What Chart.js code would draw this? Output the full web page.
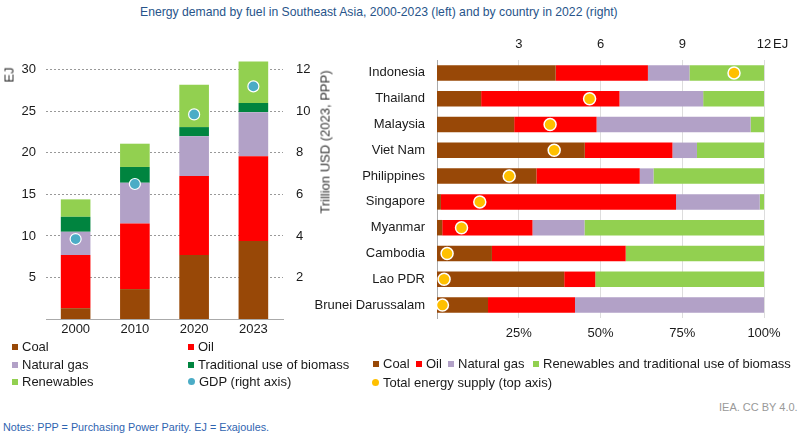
<!DOCTYPE html>
<html>
<head>
<meta charset="utf-8">
<script src="https://cdn.jsdelivr.net/npm/chart.js@4.4.0/dist/chart.umd.min.js"></script>
<style>
  body { margin: 0; width: 800px; height: 436px; background: #fff; position: relative; overflow: hidden;
         font-family: "Liberation Sans", Arial, sans-serif; }
  canvas { position: absolute; top: 0; }
  #leftChart { left: 0; }
  #rightChart { left: 300px; }
  .txt { position: absolute; white-space: nowrap; font-size: 13px; color: #1a1a1a; }
  .rot { position: absolute; white-space: nowrap; font-size: 13px; color: #333; font-weight: normal; transform: translate(-50%, -50%) rotate(-90deg); }
  .lg { position: absolute; white-space: nowrap; font-size: 13px; color: #1a1a1a; line-height: 16px; }
  .lg i { display: inline-block; width: 6px; height: 6px; margin-right: 4px; vertical-align: 1px; }
</style>
</head>
<body>
<div class="txt" style="left:140px;top:5px;font-size:12.2px;color:#27548a;">Energy demand by fuel in Southeast Asia, 2000-2023 (left) and by country in 2022 (right)</div>
<canvas id="leftChart" width="335" height="345"></canvas>
<canvas id="rightChart" width="500" height="345"></canvas>
<div class="rot" style="left:9px;top:75px;">EJ</div>
<div class="rot" style="left:325px;top:142px;">Trillion USD (2023, PPP)</div>
<div class="txt" style="left:773px;top:36px;">EJ</div>
<div class="txt" style="left:719px;top:401px;font-size:11px;color:#999;">IEA. CC BY 4.0.</div>
<div class="txt" style="left:3px;top:421px;font-size:10.8px;color:#2f64b0;">Notes: PPP = Purchasing Power Parity. EJ = Exajoules.</div>
<script>
const coalColor = "#984807";
const oilColor = "#ff0000";
const gasColor = "#b2a1c7";
const tradColor = "#00843f";
const renewColor = "#92d050";
const gdpColor = "#4bacc6";
const tesColor = "#ffc000";

// left: demand by fuel, EJ
const years = ["2000", "2010", "2020", "2023"];
const coal = [1.3, 3.6, 7.7, 9.4];
const oil = [6.4, 7.9, 9.5, 10.2];
const natGas = [2.8, 4.9, 4.8, 5.3];
const tradBiomass = [1.8, 1.9, 1.1, 1.1];
const renewables = [2.1, 2.8, 5.1, 5.0];
const gdp = [3.85, 6.5, 9.85, 11.2];

// right: shares by country in 2022, %
const countries = ["Indonesia", "Thailand", "Malaysia", "Viet Nam", "Philippines", "Singapore", "Myanmar", "Cambodia", "Lao PDR", "Brunei Darussalam"];
const coalShare = [36.3, 13.5, 23.6, 45.2, 30.4, 1.2, 1.6, 16.8, 38.9, 15.6];
const oilShare = [28.2, 42.3, 25.2, 26.8, 31.6, 71.9, 27.6, 40.9, 9.5, 26.6];
const gasShare = [12.7, 25.6, 47.1, 7.5, 4.2, 25.6, 15.9, 0, 0, 57.8];
const renewShare = [22.8, 18.6, 4.1, 20.5, 33.8, 1.3, 54.9, 42.3, 51.6, 0];
const totalSupply = [10.9, 5.6, 4.15, 4.3, 2.65, 1.57, 0.9, 0.37, 0.26, 0.2];

const tickFont = { family: "'Liberation Sans', Arial, sans-serif", size: 13 };
const tickColor = "#1a1a1a";

new Chart(document.getElementById("leftChart"), {
  type: "bar",
  data: {
    labels: years,
    datasets: [
      { type: "line", label: "GDP (right axis)", data: gdp, yAxisID: "y2", showLine: false, order: 0,
        pointRadius: 5.5, pointBackgroundColor: gdpColor, pointBorderColor: "#fff", pointBorderWidth: 1.2 },
      { label: "Coal", data: coal, backgroundColor: coalColor, order: 1 },
      { label: "Oil", data: oil, backgroundColor: oilColor, order: 1 },
      { label: "Natural gas", data: natGas, backgroundColor: gasColor, order: 1 },
      { label: "Traditional use of biomass", data: tradBiomass, backgroundColor: tradColor, order: 1 },
      { label: "Renewables", data: renewables, backgroundColor: renewColor, order: 1 },
    ],
  },
  options: {
    responsive: false,
    animation: false,
    layout: { padding: { top: 49 } },
    plugins: { legend: { display: false }, tooltip: { enabled: false } },
    datasets: { bar: { barPercentage: 0.5, categoryPercentage: 1, borderWidth: 0 } },
    scales: {
      x: {
        stacked: true,
        grid: { display: false, drawTicks: false },
        border: { color: "#aaa" },
        ticks: { font: tickFont, color: tickColor, padding: 3 },
        afterFit: (s) => { s.height = 26; },
      },
      y: {
        stacked: true, min: 0, max: 32.5,
        ticks: { stepSize: 5, font: tickFont, color: tickColor, padding: 10 },
        grid: { color: "#999", drawTicks: false },
        border: { display: false, dash: [2, 2] },
        afterBuildTicks: (s) => { s.ticks = s.ticks.filter((t) => t.value > 0 && t.value % 5 === 0); },
        afterFit: (s) => { s.width = 46; },
      },
      y2: {
        position: "right", min: 0, max: 13,
        ticks: { stepSize: 2, font: tickFont, color: tickColor, padding: 13 },
        grid: { display: false, drawTicks: false },
        border: { display: false },
        afterBuildTicks: (s) => { s.ticks = s.ticks.filter((t) => t.value > 0 && t.value % 2 === 0); },
        afterFit: (s) => { s.width = 52; },
      },
    },
  },
});

new Chart(document.getElementById("rightChart"), {
  type: "bar",
  data: {
    labels: countries,
    datasets: [
      { type: "line", label: "Total energy supply (top axis)", data: totalSupply, xAxisID: "x2", yAxisID: "y",
        showLine: false, order: 0, pointRadius: 6, pointBackgroundColor: tesColor, pointBorderColor: "#fff", pointBorderWidth: 1.5 },
      { label: "Coal", data: coalShare, backgroundColor: coalColor, xAxisID: "x", yAxisID: "y", order: 1 },
      { label: "Oil", data: oilShare, backgroundColor: oilColor, xAxisID: "x", yAxisID: "y", order: 1 },
      { label: "Natural gas", data: gasShare, backgroundColor: gasColor, xAxisID: "x", yAxisID: "y", order: 1 },
      { label: "Renewables and traditional use of biomass", data: renewShare, backgroundColor: renewColor, xAxisID: "x", yAxisID: "y", order: 1 },
    ],
  },
  options: {
    indexAxis: "y",
    responsive: false,
    animation: false,
    layout: { padding: { right: 36 } },
    plugins: { legend: { display: false }, tooltip: { enabled: false } },
    datasets: { bar: { barPercentage: 0.6, categoryPercentage: 1, borderWidth: 0 } },
    scales: {
      x: {
        type: "linear", position: "bottom", stacked: true, min: 0, max: 100,
        ticks: { stepSize: 25, font: tickFont, color: tickColor, padding: 8, callback: (v) => v + "%" },
        grid: { color: "#ddd", drawTicks: false },
        border: { display: false },
        afterBuildTicks: (s) => { s.ticks = s.ticks.filter((t) => t.value > 0); },
        afterFit: (s) => { s.height = 27; },
      },
      x2: {
        type: "linear", position: "top", min: 0, max: 12,
        ticks: { stepSize: 3, font: tickFont, color: tickColor, padding: 8 },
        grid: { display: false, drawTicks: false },
        border: { display: false },
        afterBuildTicks: (s) => { s.ticks = s.ticks.filter((t) => t.value > 0); },
        afterFit: (s) => { s.height = 60; },
      },
      y: {
        type: "category", stacked: true,
        ticks: { font: tickFont, color: tickColor, padding: 12 },
        grid: { display: false, drawTicks: false },
        border: { color: "#aaa" },
        afterFit: (s) => { s.width = 137; },
      },
    },
  },
});

function addLegend(x, y, color, text, round) {
  const el = document.createElement("div");
  el.className = "lg";
  el.style.left = x + "px";
  el.style.top = (y - 8) + "px";
  const shape = round ? "border-radius:50%;width:7px;height:7px;" : "";
  el.innerHTML = `<i style="background:${color};${shape}"></i>${text}`;
  document.body.appendChild(el);
}

addLegend(12, 347, coalColor, "Coal");
addLegend(12, 365, gasColor, "Natural gas");
addLegend(12, 382, renewColor, "Renewables");
addLegend(188, 347, oilColor, "Oil");
addLegend(188, 365, tradColor, "Traditional use of biomass");
addLegend(188, 382, gdpColor, "GDP (right axis)", true);

addLegend(373, 364, coalColor, "Coal");
addLegend(416, 364, oilColor, "Oil");
addLegend(448, 364, gasColor, "Natural gas");
addLegend(533, 364, renewColor, "Renewables and traditional use of biomass");
addLegend(372, 383, tesColor, "Total energy supply (top axis)", true);
</script>
</body>
</html>
